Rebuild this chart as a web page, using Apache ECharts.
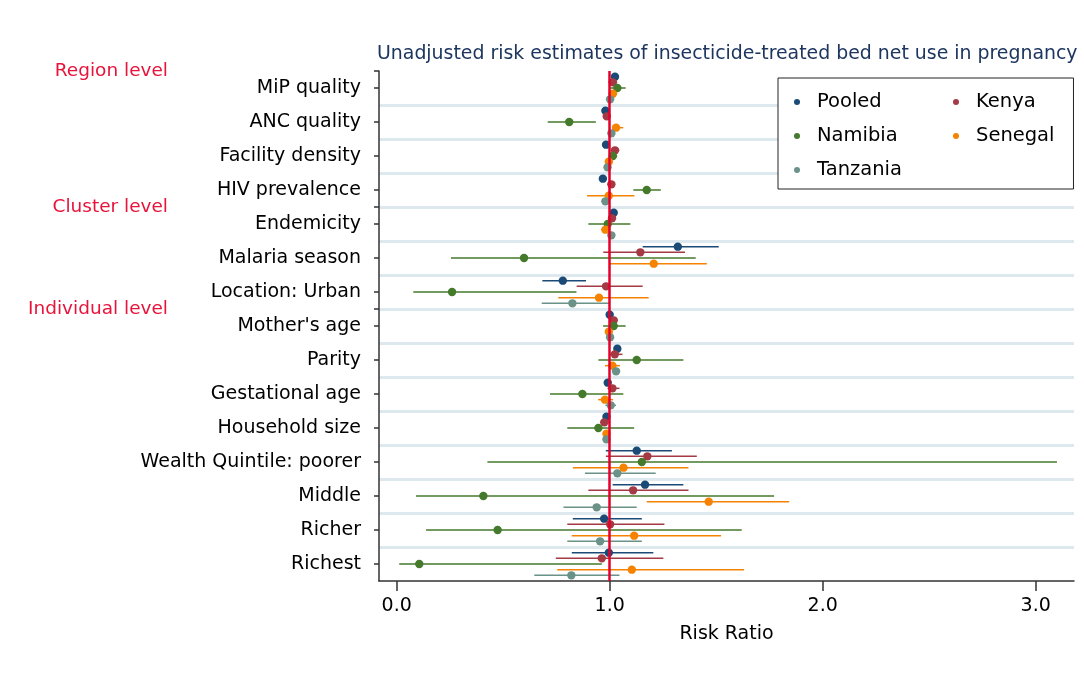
<!DOCTYPE html>
<html>
<head>
<meta charset="utf-8">
<script src="https://cdn.jsdelivr.net/npm/echarts@6/dist/echarts.min.js"></script>
<style>html,body{margin:0;padding:0;background:#fff;}#chart{width:1084px;height:684px;}</style>
</head>
<body>
<div id="chart"></div>
<script>
// ---- data ----
const categories = ["MiP quality","ANC quality","Facility density","HIV prevalence","Endemicity",
  "Malaria season","Location: Urban","Mother's age","Parity","Gestational age","Household size",
  "Wealth Quintile: poorer","Middle","Richer","Richest"];
const sectionNames = ["Region level","Cluster level","Individual level"];
const sectionStarts = [0, 4, 7];           // index of first category of each section
const seriesNames = ["Pooled","Kenya","Namibia","Senegal","Tanzania"];
const xTicks = [0, 1, 2, 3];
// [estimate, lower, upper] per category
const pooled = [[1.025,1.010,1.040],[0.980,0.965,0.995],[0.983,0.970,0.996],[0.968,0.955,0.982],[1.019,1.005,1.033],
  [1.320,1.155,1.512],[0.780,0.684,0.889],[1.000,0.990,1.010],[1.036,1.022,1.050],[0.991,0.978,1.004],
  [0.985,0.972,0.998],[1.127,0.982,1.292],[1.166,1.014,1.346],[0.974,0.827,1.151],[0.996,0.822,1.205]];
const kenya = [[1.015,0.995,1.035],[0.986,0.970,1.005],[1.025,1.005,1.045],[1.008,0.990,1.025],[1.011,0.995,1.028],
  [1.144,0.970,1.354],[0.983,0.845,1.155],[1.019,1.000,1.038],[1.024,0.998,1.060],[1.013,0.990,1.046],
  [0.975,0.955,0.995],[1.177,0.982,1.409],[1.110,0.900,1.370],[1.002,0.801,1.257],[0.963,0.747,1.252]];
const namibia = [[1.036,1.002,1.075],[0.810,0.709,0.935],[1.015,0.995,1.035],[1.174,1.111,1.240],[0.991,0.900,1.097],
  [0.598,0.255,1.404],[0.260,0.078,0.844],[1.019,0.969,1.075],[1.127,0.947,1.346],[0.872,0.720,1.064],
  [0.947,0.801,1.115],[1.151,0.426,3.100],[0.407,0.091,1.772],[0.474,0.138,1.620],[0.106,0.012,0.963]];
const senegal = [[1.015,0.995,1.035],[1.030,1.011,1.064],[0.996,0.980,1.012],[0.996,0.894,1.116],[0.980,0.960,1.002],
  [1.207,1.000,1.456],[0.950,0.759,1.183],[0.996,0.980,1.012],[1.013,0.978,1.048],[0.978,0.946,1.016],
  [0.985,0.968,1.002],[1.065,0.827,1.370],[1.465,1.174,1.843],[1.115,0.822,1.523],[1.104,0.754,1.631]];
const tanzania = [[1.002,0.988,1.016],[1.008,0.992,1.024],[0.990,0.975,1.005],[0.980,0.962,0.998],[1.008,0.995,1.021],
  null,[0.825,0.681,1.002],[1.002,0.990,1.014],[1.030,1.015,1.045],[1.005,0.980,1.030],
  [0.985,0.972,0.998],[1.036,0.884,1.216],[0.939,0.783,1.127],[0.955,0.801,1.151],[0.820,0.646,1.046]];
const allSeries = [pooled, kenya, namibia, senegal, tanzania];
const colors = ['#1a4a75','#a33a44','#45792b','#f58200','#6b9288'];

// ---- chart ----
const FONT = 'DejaVu Sans';
const chart = echarts.init(document.getElementById('chart'), null, {renderer: 'canvas'});

function makeRender(sIdx) {
  return function (params, api) {
    const y = api.value(3) + (sIdx - 2) / 6;
    const pLo = api.coord([api.value(1), y]);
    const pHi = api.coord([api.value(2), y]);
    const pE = api.coord([api.value(0), y]);
    const color = api.visual('color');
    return {
      type: 'group',
      children: [
        {type: 'line', shape: {x1: pLo[0], y1: pLo[1], x2: pHi[0], y2: pHi[1]},
         style: {stroke: color, lineWidth: 1.5}},
        {type: 'circle', shape: {cx: pE[0], cy: pE[1], r: 4.2}, style: {fill: color}}
      ]
    };
  };
}

const series = [{
  name: '_ref', type: 'line', data: [], xAxisIndex: 0, yAxisIndex: 1, z: 1,
  markLine: {silent: true, symbol: ['none','none'], label: {show: false}, animation: false,
    lineStyle: {color: '#e4002b', width: 2.5, type: 'solid'}, data: [{xAxis: 1}]}
}];
allSeries.forEach(function (arr, sIdx) {
  const data = [];
  arr.forEach(function (d, i) { if (d) data.push([d[0], d[1], d[2], i]); });
  series.push({
    name: seriesNames[sIdx], type: 'custom', xAxisIndex: 0, yAxisIndex: 1, z: 3,
    color: colors[sIdx], renderItem: makeRender(sIdx),
    encode: {x: [0, 1, 2], y: 3}, data: data
  });
});

const sectionTickValues = sectionStarts.map(function (s) { return s - 0.5; });

const option = {
  animation: false,
  backgroundColor: '#ffffff',
  color: colors,
  title: {
    text: 'Unadjusted risk estimates of insecticide-treated bed net use in pregnancy',
    left: 377, top: 45, padding: 0,
    textStyle: {fontFamily: FONT, fontSize: 18.9, fontWeight: 'normal', color: '#1d3660'}
  },
  legend: {
    left: 778, top: 78, width: 320,
    orient: 'horizontal', icon: 'circle', itemWidth: 30, itemHeight: 6, itemGap: 12,
    padding: [13, 19, 8, 16],
    backgroundColor: '#ffffff', borderColor: '#222', borderWidth: 1, borderRadius: 0,
    textStyle: {fontFamily: FONT, fontSize: 19.5, color: '#000', lineHeight: 22},
    data: [
      {name: 'Pooled', textStyle: {width: 124}},
      {name: 'Kenya'},
      {name: 'Namibia', textStyle: {width: 124}},
      {name: 'Senegal'},
      {name: 'Tanzania', textStyle: {width: 124}}
    ]
  },
  grid: {left: 379, right: 10, top: 71, bottom: 103, containLabel: false},
  xAxis: {
    type: 'value', min: -0.083, max: 3.18,
    name: 'Risk Ratio', nameLocation: 'middle', nameGap: 44,
    nameTextStyle: {fontFamily: FONT, fontSize: 19, color: '#000'},
    axisLine: {show: true, onZero: false, lineStyle: {color: '#333', width: 1.5}},
    axisTick: {show: true, customValues: xTicks, length: 10, lineStyle: {color: '#333', width: 1.5}},
    axisLabel: {customValues: xTicks, margin: 16, fontFamily: FONT, fontSize: 19, color: '#000',
      formatter: function (v) { return v.toFixed(1); }},
    splitLine: {show: false}
  },
  yAxis: [{
    type: 'category', data: categories, inverse: true, boundaryGap: true, position: 'left',
    axisLine: {show: true, onZero: false, lineStyle: {color: '#333', width: 1.5}},
    axisTick: {show: true, alignWithLabel: true, length: 5, lineStyle: {color: '#333', width: 1.5}},
    axisLabel: {interval: 0, margin: 18, fontFamily: FONT, fontSize: 19, color: '#000', padding: [2, 0, 0, 0]},
    splitLine: {show: true, interval: 0, showMinLine: false, showMaxLine: false,
      lineStyle: {color: '#dde9ee', width: 3}}
  }, {
    type: 'value', min: -0.5, max: 14.5, inverse: true, position: 'left',
    axisLine: {show: false, onZero: false},
    axisTick: {show: true, customValues: sectionTickValues, length: 5, lineStyle: {color: '#333', width: 1.5}},
    axisLabel: {customValues: sectionTickValues, margin: 211, fontFamily: FONT, fontSize: 18.5, color: '#e8133a',
      padding: [5, 0, 0, 0],
      formatter: function (v) {
        const k = sectionTickValues.indexOf(v);
        return k >= 0 ? sectionNames[k] : '';
      }},
    splitLine: {show: false}
  }],
  series: series
};
chart.setOption(option);
</script>
</body>
</html>
